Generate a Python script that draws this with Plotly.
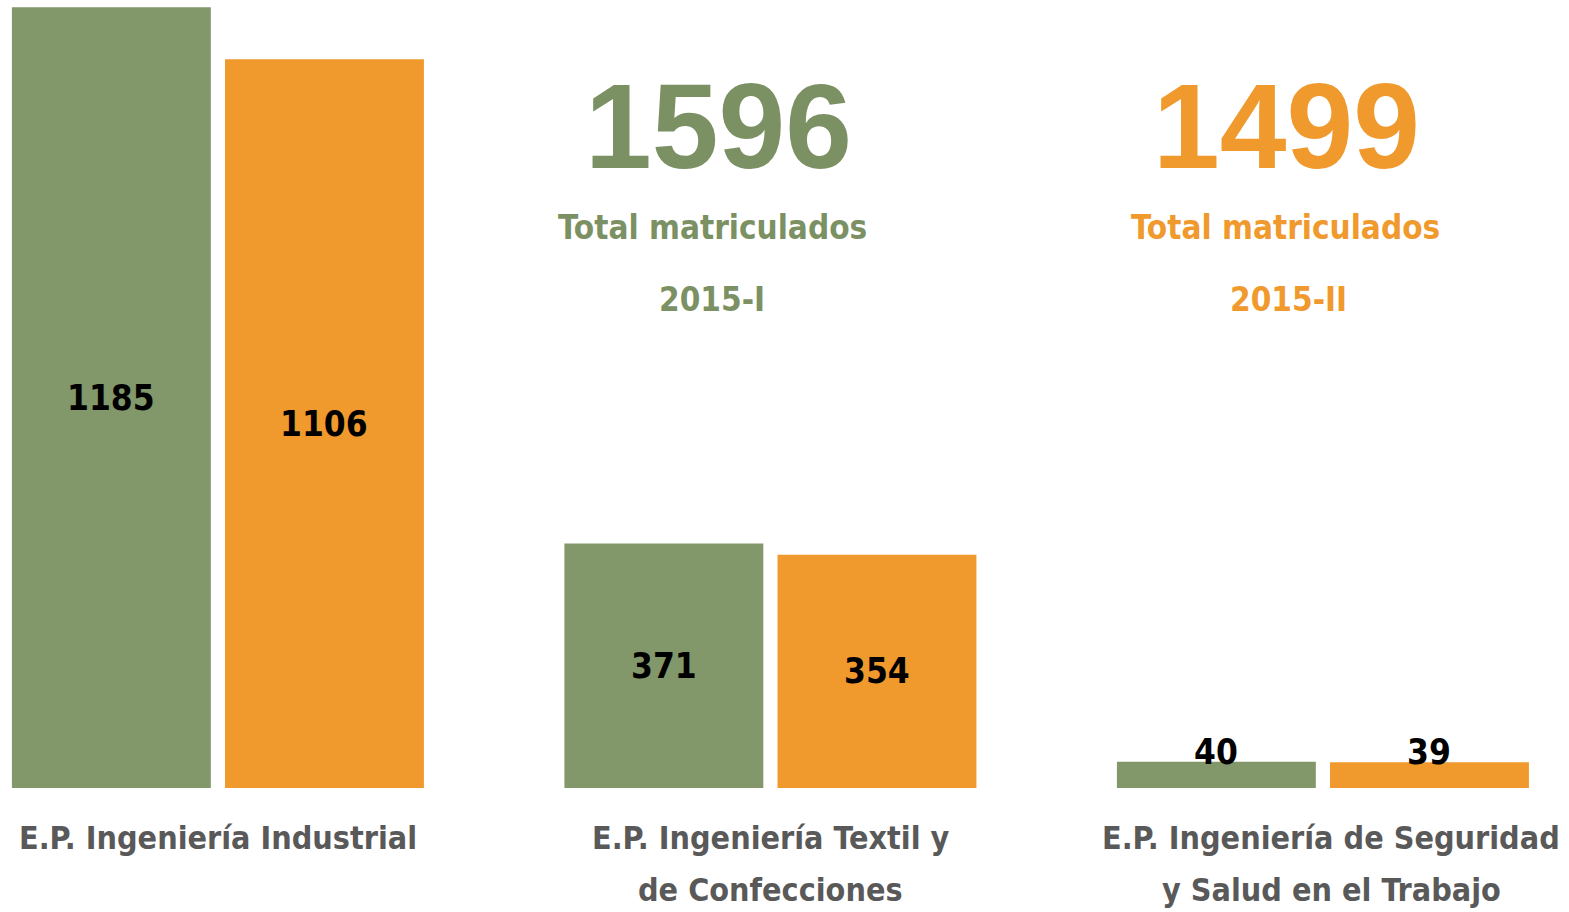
import plotly.graph_objects as go

categories = ["E.P. Ingeniería Industrial",
              "E.P. Ingeniería Textil y<br>de Confecciones",
              "E.P. Ingeniería de Seguridad<br>y Salud en el Trabajo"]
series_names = ["2015-I", "2015-II"]
values_2015_1 = [1185, 371, 40]
values_2015_2 = [1106, 354, 39]

GREEN = "#82976A"
ORANGE = "#F0992D"
GREEN_TXT = "#7B9163"
GRAY = "#595959"
NARROW = "DejaVu Sans Condensed, Liberation Sans Narrow, sans-serif"

W, H = 1569, 912
PLOT_H = 788
BAR_W = 0.36
fig = go.Figure()
x_idx = list(range(len(categories)))
for vals, col, name, off in [(values_2015_1, GREEN, series_names[0], -0.373),
                              (values_2015_2, ORANGE, series_names[1], 0.0127)]:
    fig.add_trace(go.Bar(
        x=x_idx, y=vals, name=name, marker=dict(color=col, line=dict(width=0)),
        width=BAR_W, offset=off, hoverinfo="x+y",
    ))
    for i, v in zip(x_idx, vals):
        big = v > 100
        fig.add_annotation(x=i + off + BAR_W / 2, y=v / 2 if big else v, xref="x", yref="y",
                           showarrow=False, xanchor="center", yanchor="middle",
                           yshift=0 if big else 10, text=str(v),
                           font=dict(family=NARROW, size=35, color="black", weight="bold"))

px_per_cat = 552.5
r0 = -218 / px_per_cat
r1 = r0 + W / px_per_cat

fig.update_layout(
    width=W, height=H, barmode="overlay", showlegend=False,
    margin=dict(l=0, r=0, t=0, b=H - PLOT_H, autoexpand=False),
    plot_bgcolor="white", paper_bgcolor="white",
    xaxis=dict(range=[r0, r1], tickvals=x_idx, showticklabels=False,
               showgrid=False, zeroline=False, showline=False, fixedrange=True),
    yaxis=dict(range=[0, 1196], visible=False, fixedrange=True),
)

# category labels (one annotation per line for exact line spacing)
line_y = [838, 890]
label_shift = [0, 0, 8]
for i, cat in zip(x_idx, categories):
    for j, line in enumerate(cat.split("<br>")):
        fig.add_annotation(x=i, y=1 - line_y[j] / PLOT_H, xref="x", yref="paper",
                           xshift=label_shift[i],
                           showarrow=False, xanchor="center", yanchor="middle", text=line,
                           font=dict(family=NARROW, size=32, color=GRAY, weight="bold"))

totals = [(sum(values_2015_1), series_names[0], GREEN_TXT, 718, 712, 712),
          (sum(values_2015_2), series_names[1], ORANGE, 1286, 1285, 1288)]
for tot, lab, col, x_num, x_sub, x_lab in totals:
    fig.add_annotation(x=x_num / W, y=1 - 126 / PLOT_H, xref="paper", yref="paper", showarrow=False,
                       xanchor="center", yanchor="middle",
                       text=str(tot), font=dict(family="Liberation Sans, Arial, sans-serif",
                                               size=120, color=col, weight="bold"))
    fig.add_annotation(x=x_sub / W, y=1 - 228 / PLOT_H, xref="paper", yref="paper", showarrow=False,
                       xanchor="center", yanchor="middle",
                       text="Total matriculados", font=dict(family=NARROW, size=33, color=col, weight="bold"))
    fig.add_annotation(x=x_lab / W, y=1 - 299 / PLOT_H, xref="paper", yref="paper", showarrow=False,
                       xanchor="center", yanchor="middle",
                       text=lab, font=dict(family=NARROW, size=33, color=col, weight="bold"))

fig.write_html("out.html", config={"displayModeBar": False},
               post_script="document.body.style.margin='0';document.body.style.overflow='hidden';")
